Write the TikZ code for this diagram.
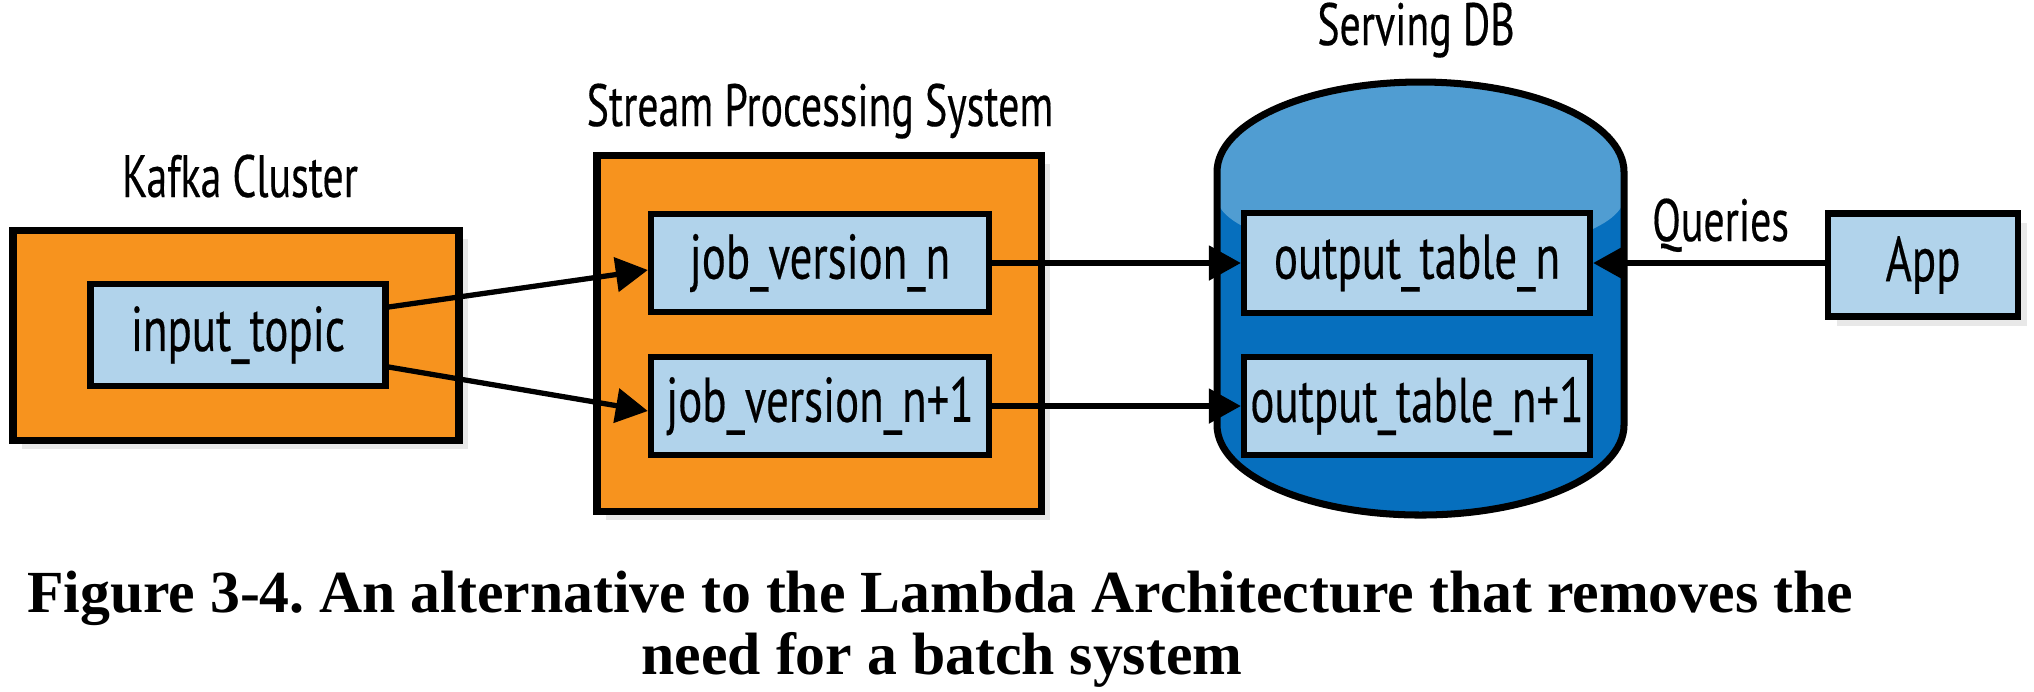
\documentclass[tikz,border=0pt]{standalone}
\usepackage{fontspec}
\setmainfont{Liberation Serif}
\newfontfamily\diagfont[FakeStretch=0.71,FakeBold=0.3]{PT Sans}
\newfontfamily\headfont[FakeStretch=0.7,FakeBold=0.3]{PT Sans}
\usetikzlibrary{arrows.meta,shadows}

\definecolor{clusterorange}{RGB}{247,147,30}
\definecolor{tableblue}{RGB}{177,211,235}
\definecolor{dblight}{RGB}{80,157,210}
\definecolor{dbdark}{RGB}{6,111,190}

\newcommand*{\xMax}{2034}
\newcommand*{\yMin}{-691}

\tikzset{
    softshadow/.style={drop shadow={opacity=0.18,shadow xshift=0.9mm,shadow yshift=-0.9mm}},
    clusterbox/.style={draw=black,line width=2pt,fill=clusterorange,softshadow},
    tablebox/.style={draw=black,line width=1.8pt,fill=tableblue,inner sep=0pt,
        font=\diagfont\fontsize{18}{20}\selectfont},
    heading/.style={font=\headfont\fontsize{17}{20}\selectfont,anchor=base,inner sep=0pt},
    flow/.style={-{Triangle[length=3.2mm,width=3.4mm]},line width=1.5pt},
    captiontext/.style={font=\bfseries\fontsize{17}{17}\selectfont,anchor=base,inner sep=0pt},
}

\begin{document}
\frenchspacing
\begin{tikzpicture}[x=0.1mm,y=0.1mm]
    \useasboundingbox (0,0) rectangle (\xMax,\yMin);
    \fill[white] (0,0) rectangle (\xMax,\yMin);

    \node[heading] (kafkatitle) at (240,-197) {Kafka Cluster};
    \node[heading] (streamtitle) at (820,-126) {Stream Processing System};
    \node[heading] (dbtitle) at (1416,-45) {Serving DB};

    \node[clusterbox,minimum width=44.6mm,minimum height=21mm] (kafka) at (236,-335) {};
    \node[tablebox,minimum width=29.5mm,minimum height=10.2mm] (topic) at (238,-335) {input\_topic};

    \node[clusterbox,minimum width=44.4mm,minimum height=35.6mm] (stream) at (819,-333) {};
    \node[tablebox,minimum width=33.8mm,minimum height=9.8mm] (jobn) at (820,-263) {job\_version\_n};
    \node[tablebox,minimum width=33.8mm,minimum height=9.8mm] (jobm) at (820,-406) {job\_version\_n+1};

    % serving db cylinder
    \fill[dbdark] (1217,-172) -- (1217,-425)
        arc[start angle=180,end angle=360,x radius=203.5,y radius=90]
        -- (1624,-172)
        arc[start angle=0,end angle=180,x radius=203.5,y radius=90] -- cycle;
    \fill[dblight] (1217,-197) -- (1217,-172)
        arc[start angle=180,end angle=0,x radius=203.5,y radius=90]
        -- (1624,-197)
        arc[start angle=0,end angle=-180,x radius=203.5,y radius=60] -- cycle;
    \draw[line width=2pt] (1217,-172) -- (1217,-425)
        arc[start angle=180,end angle=360,x radius=203.5,y radius=90]
        -- (1624,-172)
        arc[start angle=0,end angle=180,x radius=203.5,y radius=90] -- cycle;

    \node[tablebox,minimum width=34.6mm,minimum height=10mm] (outn) at (1417,-263) {output\_table\_n};
    \node[tablebox,minimum width=34.6mm,minimum height=9.8mm] (outm) at (1417,-406) {output\_table\_n+1};

    \node[tablebox,softshadow,minimum width=19mm,minimum height=10.3mm] (app) at (1923,-265) {App};

    \draw[flow] ([yshift=2.8mm]topic.east) -- ([yshift=-0.7mm]jobn.west);
    \draw[flow] ([yshift=-3.2mm]topic.east) -- ([yshift=-0.5mm]jobm.west);
    \draw[flow] (jobn.east) -- (jobn.east -| outn.west);
    \draw[flow] (jobm.east) -- (jobm.east -| outm.west);
    \draw[flow] (app.west |- outn.east) -- node[heading,pos=0.45,above=2.2mm,anchor=base] (queries) {Queries} (outn.east);

    \node[captiontext] (captionone) at (940,-612) {Figure 3-4. An alternative to the Lambda Architecture that removes the};
    \node[captiontext] (captiontwo) at (942,-674) {need for a batch system};
\end{tikzpicture}
\end{document}
